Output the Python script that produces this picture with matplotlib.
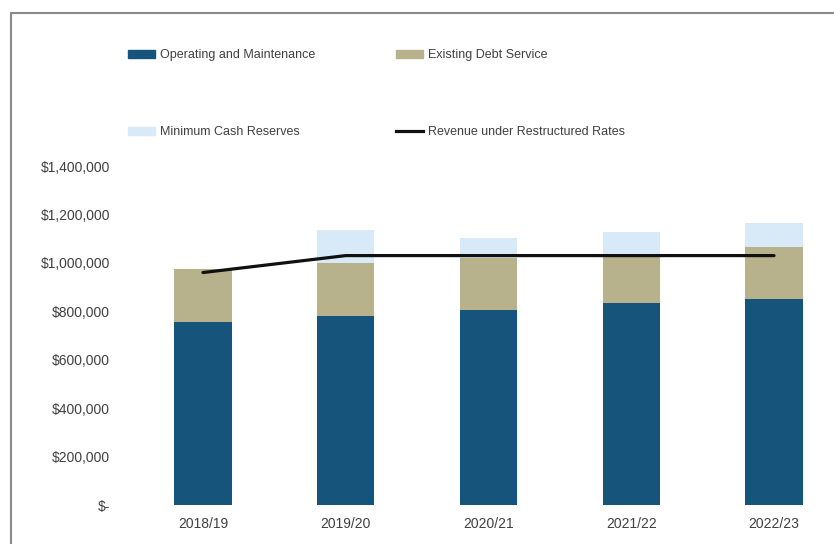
import matplotlib
matplotlib.use("Agg")
import matplotlib.pyplot as plt
from matplotlib.patches import Patch, Rectangle
from matplotlib.lines import Line2D
import numpy as np

years = ["2018/19", "2019/20", "2020/21", "2021/22", "2022/23"]
om = [755000, 781000, 806000, 835000, 852000]
debt = [220000, 219000, 214000, 195000, 214000]
reserves = [0, 136000, 83000, 98000, 97000]
revenue = [960000, 1030000, 1030000, 1030000, 1030000]
yticks = [0, 200000, 400000, 600000, 800000, 1000000, 1200000, 1400000]
ytick_labels = ["$-", "$200,000", "$400,000", "$600,000", "$800,000",
                "$1,000,000", "$1,200,000", "$1,400,000"]

c_om = "#16547c"
c_debt = "#b7b28c"
c_res = "#d8eaf8"
c_txt = "#404040"

plt.rcParams['font.family'] = ['Liberation Sans', 'DejaVu Sans']

W, H = 834, 544
fig = plt.figure(figsize=(W / 100, H / 100), dpi=100)
ax = fig.add_axes([160 / W, (H - 505) / H, (820 - 160) / W, (505 - 166) / H])

x = np.arange(len(years))
bw = 0.40
ax.bar(x, om, bw, color=c_om, zorder=2)
ax.bar(x, debt, bw, bottom=om, color=c_debt, zorder=2)
bot2 = np.array(om) + np.array(debt)
ax.bar(x, reserves, bw, bottom=bot2, color=c_res, zorder=2)
ax.plot(x, revenue, color="#111111", lw=2.3, zorder=3, solid_capstyle="round")

ax.set_xlim(-0.301, 4.322)
ax.set_ylim(0, 1400000)
ax.set_yticks(yticks)
ax.set_yticklabels(ytick_labels)
ax.set_xticks(x)
ax.set_xticklabels(years)
for s in ax.spines.values():
    s.set_visible(False)
ax.tick_params(axis="y", length=0, pad=36, labelsize=10, labelcolor=c_txt)
ax.tick_params(axis="x", length=0, pad=9, labelsize=10, labelcolor=c_txt)

handles = [Patch(color=c_om), Patch(color=c_res), Patch(color=c_debt),
           Line2D([0], [0], color="#111111", lw=2.3)]
labels = ["Operating and Maintenance", "Minimum Cash Reserves",
          "Existing Debt Service", "Revenue under Restructured Rates"]
leg = fig.legend(handles, labels, loc="upper left",
                 bbox_to_anchor=(116.5 / W, 1 - 38 / H), ncol=2, frameon=False,
                 fontsize=9, labelspacing=5.2, columnspacing=6.5,
                 handlelength=2.15, handleheight=0.6, handletextpad=0.4)
for t in leg.get_texts():
    t.set_color(c_txt)

fig.patches.append(Rectangle((11 / W, -0.05), 1.2, 1.05 - 13 / H, transform=fig.transFigure,
                             fill=False, edgecolor="#8a8a8a", lw=1.5))

fig.savefig("out.png", dpi=100)
